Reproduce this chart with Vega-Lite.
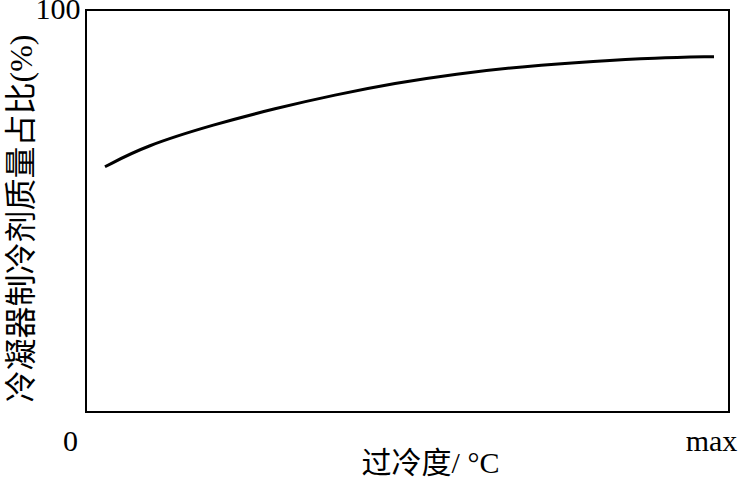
{
  "$schema": "https://vega.github.io/schema/vega-lite/v6.json",
  "autosize": {"type": "none"},
  "padding": {"left": 86, "top": 10, "right": 10, "bottom": 66},
  "width": 643,
  "height": 402,
  "background": "white",
  "config": {
    "view": {"stroke": "black", "strokeWidth": 2},
    "font": "Liberation Serif, Noto Sans CJK SC"
  },
  "data": {
    "values": [
      {"x": 2.95, "y": 61.0},
      {"x": 9.18, "y": 66.2},
      {"x": 20.06, "y": 71.6},
      {"x": 29.39, "y": 75.5},
      {"x": 38.72, "y": 78.9},
      {"x": 48.06, "y": 81.8},
      {"x": 57.39, "y": 84.1},
      {"x": 68.27, "y": 86.0},
      {"x": 79.16, "y": 87.3},
      {"x": 88.49, "y": 88.1},
      {"x": 97.67, "y": 88.4}
    ]
  },
  "mark": {"type": "line", "interpolate": "basis", "color": "black", "strokeWidth": 3},
  "encoding": {
    "x": {
      "field": "x",
      "type": "quantitative",
      "scale": {"domain": [0, 100], "nice": false},
      "axis": {
        "values": [0, 100],
        "labelExpr": "datum.value == 0 ? '0' : 'max'",
        "grid": false,
        "domain": false,
        "ticks": false,
        "labelFont": "Liberation Serif",
        "labelFontSize": 30,
        "labelColor": "black",
        "labelAlign": "center",
        "labelBaseline": "top",
        "labelPadding": 14,
        "labelOffset": {"condition": {"test": "datum.value == 0", "value": -16}, "value": -18},
        "labelFlush": false,
        "labelOverlap": false,
        "title": "过冷度/ °C",
        "titleFont": "Liberation Serif, Noto Sans CJK SC",
        "titleFontSize": 30,
        "titleFontWeight": "normal",
        "titleColor": "black",
        "titleX": 344,
        "titleY": 60,
        "titleAlign": "center",
        "titleBaseline": "alphabetic"
      }
    },
    "y": {
      "field": "y",
      "type": "quantitative",
      "scale": {"domain": [0, 100], "nice": false},
      "axis": {
        "values": [100],
        "labelExpr": "'100'",
        "grid": false,
        "domain": false,
        "ticks": false,
        "labelFont": "Liberation Serif",
        "labelFontSize": 30,
        "labelColor": "black",
        "labelAlign": "right",
        "labelBaseline": "middle",
        "labelPadding": 6,
        "labelOffset": -1,
        "labelFlush": false,
        "labelOverlap": false,
        "title": "冷凝器制冷剂质量占比(%)",
        "titleFont": "Liberation Serif, Noto Sans CJK SC",
        "titleFontSize": 32,
        "titleFontWeight": "normal",
        "titleColor": "black",
        "titleAngle": -90,
        "titleX": -65,
        "titleY": 208,
        "titleAlign": "center",
        "titleBaseline": "middle"
      }
    }
  }
}
